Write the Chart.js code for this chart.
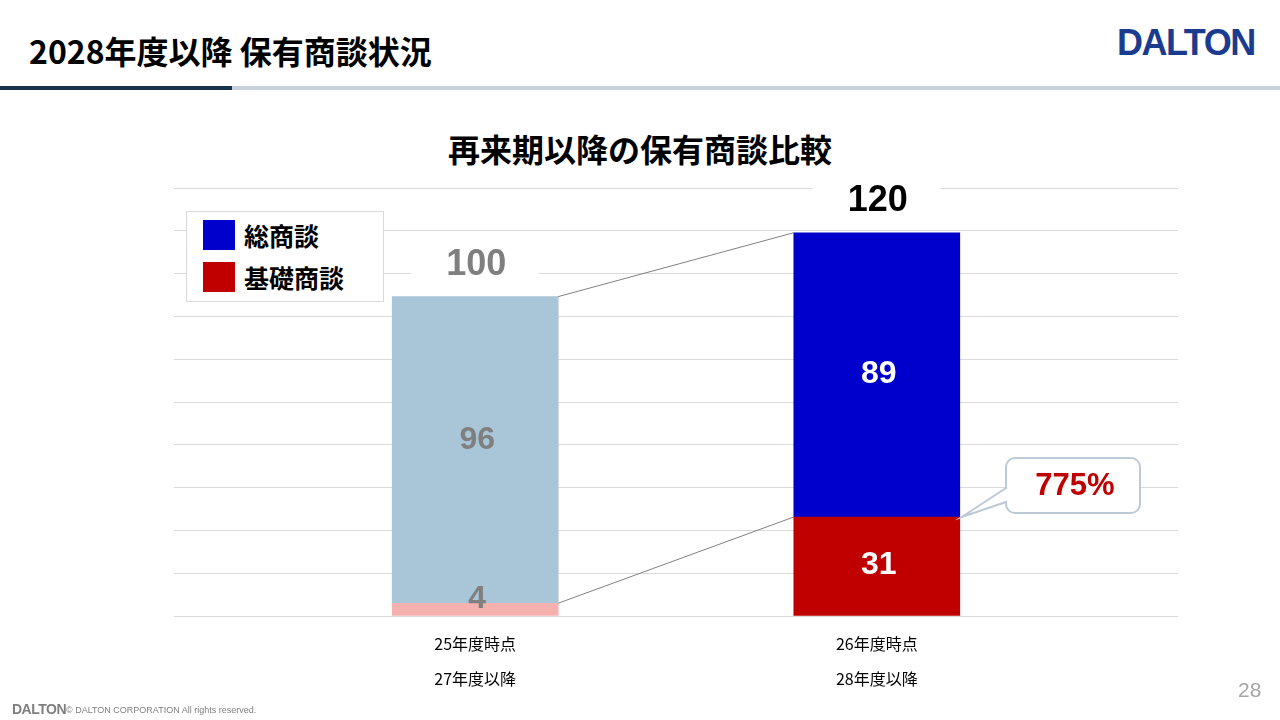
<!DOCTYPE html>
<html>
<head>
<meta charset="utf-8">
<script src="https://cdn.jsdelivr.net/npm/chart.js@4.4.1/dist/chart.umd.min.js"></script>
<style>
body{margin:0;width:1280px;height:720px;position:relative;background:#fff;overflow:hidden;font-family:"Noto Sans CJK JP",sans-serif}
#page-title{position:absolute;left:29px;top:28px;font-size:32px;font-weight:bold;color:#000;line-height:44px;letter-spacing:0px}
#logo{position:absolute;left:1117px;top:22px;font-family:"Liberation Sans",Arial,sans-serif;font-weight:bold;font-size:36px;line-height:42px;color:#1B3B8E;letter-spacing:-1.5px}
#bar-dark{position:absolute;left:0;top:86px;width:232px;height:4px;background:#17344F}
#bar-light{position:absolute;left:232px;top:86px;width:1048px;height:4px;background:#C6D0DA}
#chart-title{position:absolute;left:0;width:1280px;top:126px;text-align:center;font-size:32px;font-weight:bold;color:#000;line-height:44px}
#wrap{position:absolute;left:0;top:0;width:1280px;height:720px}
#legend{position:absolute;left:186px;top:211px;width:196px;height:89px;border:1px solid #D9D9D9;background:#fff}
.row{position:absolute;left:16px;height:30px;font-size:25px;font-weight:bold;line-height:30px;color:#000;white-space:nowrap}
.sw{display:inline-block;width:32px;height:30px;vertical-align:top;margin-right:9px}
#page-no{position:absolute;left:1238px;top:678px;font-family:"Liberation Sans",Arial,sans-serif;font-size:21px;color:#A6A6A6}
#foot-logo{position:absolute;left:12px;top:701px;font-family:"Liberation Sans",Arial,sans-serif;font-weight:bold;font-size:14px;color:#7F7F7F;letter-spacing:-0.5px}
#foot-text{position:absolute;left:66px;top:705px;font-family:"Liberation Sans",Arial,sans-serif;font-size:9px;color:#7F7F7F}
</style>
</head>
<body>
<div id="page-title">2028年度以降 保有商談状況</div>
<div id="logo">DALTON</div>
<div id="bar-dark"></div><div id="bar-light"></div>
<div id="chart-title">再来期以降の保有商談比較</div>
<div id="wrap"><canvas id="myChart" width="1280" height="720"></canvas></div>
<div id="legend">
  <div class="row" style="top:8px"><span class="sw" style="background:#0000CC"></span>総商談</div>
  <div class="row" style="top:50px"><span class="sw" style="background:#C00000"></span>基礎商談</div>
</div>
<div id="page-no">28</div>
<div id="foot-logo">DALTON</div>
<div id="foot-text">© DALTON CORPORATION All rights reserved.</div>
<script>
var categories = [ ['25年度時点', '27年度以降'], ['26年度時点', '28年度以降'] ];
var seriesNames = [ '基礎商談', '総商談' ];
var kisoValues = [ 4, 31 ];
var otherValues = [ 96, 89 ];
var growthLabel = '775%';
var yMax = 134;
var yStep = 13.4;

var kisoColors = [ '#F4B1AD', '#C00000' ];
var otherColors = [ '#A9C5D8', '#0000CC' ];
var labelColors = [ '#7F7F7F', '#FFFFFF' ];
var totalColors = [ '#7F7F7F', '#000000' ];
var labelShift = [ -10, -1 ];

function toPoints( values ){
    var pts = [];
    for ( var i = 0; i < values.length; i++ ){
        pts.push( { x: i, y: values[i] } );
    }
    return pts;
}

var labelPlugin = {
    id: 'labels',
    afterDatasetsDraw: function( chart ){
        var ctx = chart.ctx;
        var y = chart.scales.y;
        var bottom = chart.getDatasetMeta(0).data;
        var top = chart.getDatasetMeta(1).data;
        ctx.save();
        // connector lines
        ctx.strokeStyle = '#808080';
        ctx.lineWidth = 1;
        ctx.beginPath();
        ctx.moveTo( top[0].x + top[0].width / 2, top[0].y );
        ctx.lineTo( top[1].x - top[1].width / 2, top[1].y );
        ctx.moveTo( bottom[0].x + bottom[0].width / 2, bottom[0].y );
        ctx.lineTo( bottom[1].x - bottom[1].width / 2, bottom[1].y );
        ctx.stroke();

        ctx.font = 'bold 32px "Liberation Sans", Arial, sans-serif';
        ctx.textAlign = 'center';
        ctx.textBaseline = 'middle';
        var sets = [ [bottom, kisoValues], [top, otherValues] ];
        for ( var s = 0; s < sets.length; s++ ){
            for ( var i = 0; i < sets[s][0].length; i++ ){
                var el = sets[s][0][i];
                ctx.fillStyle = labelColors[i];
                ctx.fillText( sets[s][1][i], el.x + 2, (el.y + el.base) / 2 + labelShift[i] );
            }
        }
        // totals
        ctx.font = 'bold 36px "Liberation Sans", Arial, sans-serif';
        for ( var i = 0; i < kisoValues.length; i++ ){
            var total = kisoValues[i] + otherValues[i];
            var ty = y.getPixelForValue( total ) - 32;
            ctx.fillStyle = '#FFFFFF';
            ctx.fillRect( top[i].x - 64, ty - 20, 128, 40 );
            ctx.fillStyle = totalColors[i];
            ctx.fillText( total, top[i].x + 1, ty );
        }
        // callout
        var px = bottom[1].x + bottom[1].width / 2 + 2;
        var py = bottom[1].y;
        var bx = 1006, by = 458, bw = 134, bh = 55, r = 9;
        ctx.beginPath();
        ctx.moveTo( bx + r, by );
        ctx.lineTo( bx + bw - r, by );
        ctx.arcTo( bx + bw, by, bx + bw, by + r, r );
        ctx.lineTo( bx + bw, by + bh - r );
        ctx.arcTo( bx + bw, by + bh, bx + bw - r, by + bh, r );
        ctx.lineTo( bx + r, by + bh );
        ctx.arcTo( bx, by + bh, bx, by + bh - r, r );
        ctx.lineTo( bx, by + 44 );
        ctx.lineTo( px, py );
        ctx.lineTo( bx, by + 30 );
        ctx.lineTo( bx, by + r );
        ctx.arcTo( bx, by, bx + r, by, r );
        ctx.closePath();
        ctx.fillStyle = '#FFFFFF';
        ctx.fill();
        ctx.strokeStyle = '#BCCAD6';
        ctx.lineWidth = 2;
        ctx.stroke();
        ctx.font = 'bold 31px "Liberation Sans", Arial, sans-serif';
        ctx.fillStyle = '#C00000';
        ctx.fillText( growthLabel, bx + bw / 2 + 2, by + bh / 2 + 1 );
        ctx.restore();
    }
};

var myChart = new Chart( document.getElementById('myChart').getContext('2d'), {
    type: 'bar',
    data: {
        datasets: [
            { label: seriesNames[0], data: toPoints( kisoValues ), backgroundColor: kisoColors, barThickness: 166 },
            { label: seriesNames[1], data: toPoints( otherValues ), backgroundColor: otherColors, barThickness: 166 }
        ]
    },
    options: {
        responsive: false,
        animation: false,
        layout: { padding: { left: 174, right: 102, top: 188, bottom: 14 } },
        plugins: { legend: { display: false }, tooltip: { enabled: false } },
        scales: {
            x: {
                type: 'linear',
                stacked: true,
                offset: false,
                min: -0.75,
                max: 1.75,
                afterBuildTicks: function( scale ){ scale.ticks = [ { value: 0 }, { value: 1 } ]; },
                grid: { display: false, drawTicks: false },
                border: { display: false },
                ticks: {
                    padding: 10,
                    color: '#000',
                    font: { family: '"Noto Sans CJK JP", sans-serif', size: 16, lineHeight: '35px' },
                    callback: function( v ){ return categories[v]; }
                }
            },
            y: {
                stacked: true,
                min: 0,
                max: yMax,
                afterBuildTicks: function( scale ){
                    var t = [];
                    for ( var i = 0; i <= 10; i++ ) t.push( { value: i * yStep } );
                    scale.ticks = t;
                },
                grid: { color: '#D9D9D9', drawTicks: false },
                border: { display: false },
                ticks: { display: false }
            }
        }
    },
    plugins: [ labelPlugin ]
});
</script>
</body>
</html>
